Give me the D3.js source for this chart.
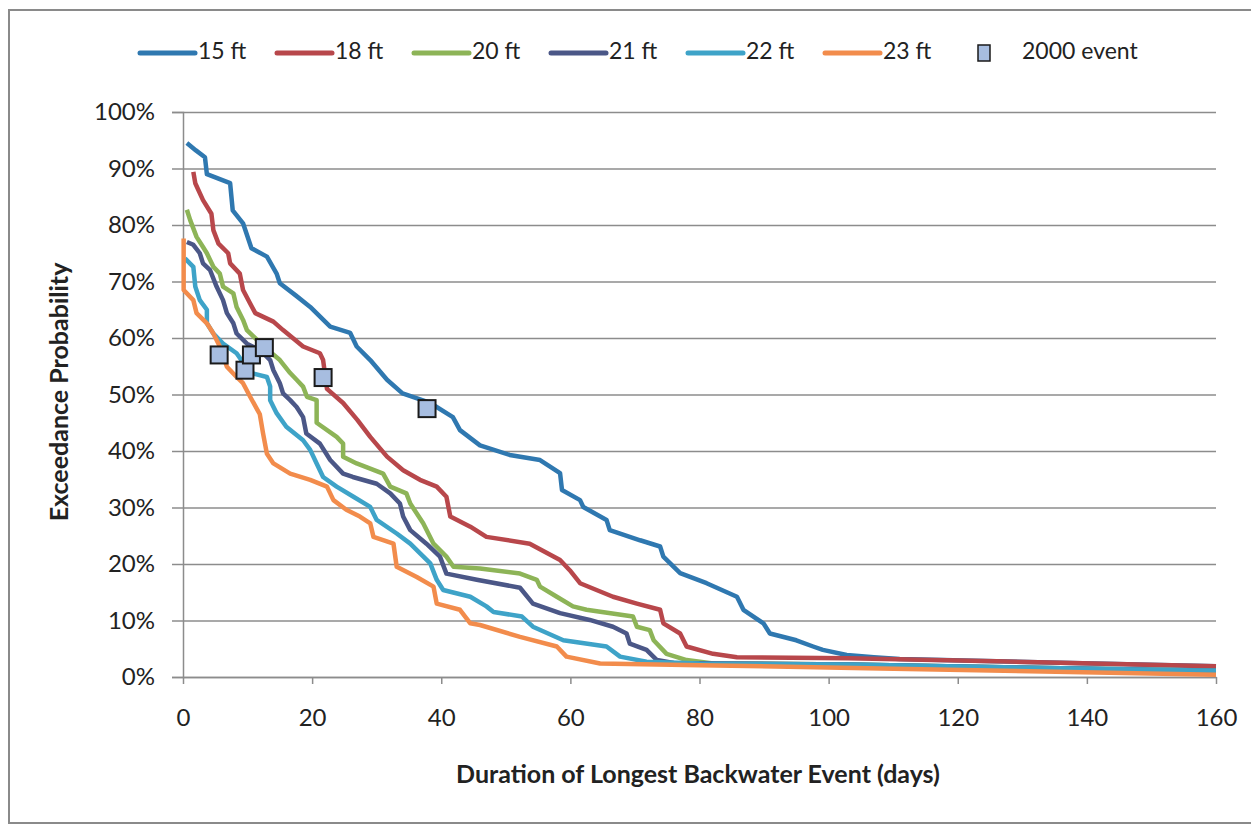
<!DOCTYPE html>
<html>
<head>
<meta charset="utf-8">
<script src="https://cdn.jsdelivr.net/npm/d3@7"></script>
<style>
  body { margin: 0; background: #fff; }
  text { font-family: Lato, "Open Sans", sans-serif; fill: #222; }
</style>
</head>
<body>
<div id="chart"></div>
<script>
// series names and colours
var seriesNames = ["15 ft", "18 ft", "20 ft", "21 ft", "22 ft", "23 ft"];
var seriesColors = ["#2f78b0", "#b8474b", "#8db457", "#4b5787", "#3ea3c8", "#f28c4c"];

// [days, exceedance %]
var s15 = [[0.6,94.5],[2.0,93.2],[3.4,92],[3.7,89],[5.5,88.2],[7.3,87.4],[7.7,82.6],[9.3,80.3],[10.6,75.9],[13,74.4],[14.5,71.4],[15,69.7],[17.5,67.5],[19.7,65.5],[22.8,62],[25.9,60.9],[26.9,58.5],[29,56.1],[31.6,52.6],[34,50.2],[38.3,48.5],[41.8,46],[42.9,43.7],[46,41],[50.6,39.3],[55.3,38.4],[58.4,36.1],[58.7,33.1],[61.5,31.3],[62,30.1],[65.6,27.8],[66.1,26],[70.8,24.2],[73.9,23.1],[74.4,21.3],[77,18.4],[81.1,16.6],[85.8,14.2],[86.8,11.9],[89.9,9.5],[90.9,7.7],[95,6.5],[97.6,5.4],[99.1,4.8],[102.8,3.9],[107,3.5],[111,3.2],[126,2.8],[160,1.9]];
var s18 = [[1.6,89.4],[1.9,87.4],[3.1,84.4],[4.4,82],[4.7,79.1],[5.5,76.7],[7,75],[7.3,73.2],[8.8,71.4],[9.3,68.5],[10.4,66.1],[11.2,64.4],[14,62.9],[15.5,61.4],[18.6,58.5],[21.2,57.3],[21.7,56.1],[22.3,51],[24.8,48.5],[27,45.5],[29,42.5],[31.6,39],[34.1,36.6],[36.7,34.9],[39.3,33.7],[40.8,31.9],[41.4,28.4],[44.5,26.6],[47,24.8],[53.7,23.6],[58.4,20.7],[59.9,18.9],[61.5,16.6],[66.6,14.2],[70.3,13],[73.9,11.9],[74.4,9.5],[77,7.7],[78,5.4],[82.1,4.1],[85.8,3.5],[103,3.3],[126,2.8],[160,1.9]];
var s20 = [[0.6,82.7],[1.1,80.9],[2.1,77.9],[3.1,76.1],[3.7,75],[4.7,72.6],[5.7,71.4],[6.2,69.1],[7.8,67.9],[8.3,65.5],[9.3,63.2],[9.9,61.4],[12.5,58.5],[15,56.1],[16.6,53.8],[17.6,52.6],[18.6,51.4],[19.2,49.6],[20.7,49],[20.7,45],[23.8,42.5],[24.8,41.3],[24.8,39],[26.9,37.8],[31,36],[32.1,33.7],[34.6,32.5],[35.2,30.7],[37.2,27.2],[38.8,23.6],[40.8,21.3],[41.9,19.5],[46,19.2],[52.2,18.3],[54.8,17.2],[55.3,16],[57.9,14.2],[60.4,12.5],[62.5,11.9],[69.7,10.7],[70.3,8.9],[72.3,8.3],[72.9,6.5],[74.9,4.1],[78,3],[82.1,2.4],[103,2.2],[160,1.1]];
var s21 = [[0.6,77],[1.6,76.5],[2.6,75],[3.1,73.2],[4.2,72],[5.2,69.1],[6.2,66.7],[6.8,64.4],[7.8,62.6],[8.3,60.8],[9.9,59],[12,57.8],[13.5,56.1],[14,54.3],[15,52],[15.5,50.2],[16.6,49],[17.6,47.8],[18.6,46],[19.1,43.1],[21.2,41.3],[22.8,38.4],[24.8,36],[26.3,35.4],[30,34.2],[32.1,32.5],[33.6,30.7],[34.1,28.4],[35.2,26],[37.7,23.6],[39.8,21.3],[40.8,18.3],[45.5,17.2],[52.2,15.8],[54.2,13],[58.4,11.3],[63,10.1],[66.6,8.9],[68.7,7.7],[69.2,5.9],[71.8,4.8],[73.4,3],[76,2.5],[103,2.2],[160,1.1]];
var s22 = [[0.3,74.1],[1.6,72.6],[1.9,69.1],[2.6,66.7],[3.7,65],[3.7,62.6],[4.7,60.8],[6.2,59],[8.3,57.3],[10,54.5],[10.9,53.7],[13,53.1],[13.5,51.4],[13.5,49],[14.5,46.7],[16,44.3],[18.6,41.9],[19.7,40.2],[20.7,37.8],[21.7,35.4],[23.8,33.7],[26.4,31.9],[29,30.1],[30,27.8],[33.1,25.4],[35.2,23.6],[38.3,20.1],[39.3,17.2],[40.3,15.4],[44.5,14.2],[47,12.5],[48.1,11.5],[52.5,10.7],[54.2,8.9],[58.9,6.5],[65.6,5.4],[67.7,3.6],[71.8,2.7],[80,2.4],[103,2.2],[160,1.1]];
var s23 = [[0.1,77.6],[0.1,68.5],[1.6,66.7],[2.1,64.4],[3.7,62.6],[4.7,60.8],[5.7,58.5],[6.8,54.9],[8.3,53.1],[9.3,52],[10.4,49.6],[11.9,46.5],[12.4,43.1],[13,39.5],[14,37.8],[16.6,36],[19.7,34.9],[22.3,33.7],[23.3,31.3],[25.3,29.6],[27.4,28.4],[29,27.2],[29.5,24.8],[32.6,23.6],[33.1,19.5],[36.2,17.7],[38.8,16],[39.3,13],[42.9,11.9],[44.5,9.5],[46,9.2],[52.2,7.1],[57.9,5.4],[59.4,3.6],[64.6,2.4],[80,2.1],[108,1.5],[160,0.4]];
var seriesValues = [s15, s18, s20, s21, s22, s23];

// 2000 event markers
var eventDays = [5.6, 9.6, 10.6, 12.6, 21.7, 37.8];
var eventProb = [57, 54.3, 57, 58.3, 53, 47.5];

var xTicks = [0, 20, 40, 60, 80, 100, 120, 140, 160];
var yTicks = [0, 10, 20, 30, 40, 50, 60, 70, 80, 90, 100];

var W = 1251, H = 825;
var margin = {top: 112, right: 35, bottom: 148, left: 183},
    width = W - margin.left - margin.right,
    height = H - margin.top - margin.bottom;

var svg = d3.select("#chart").append("svg")
    .attr("width", W)
    .attr("height", H);

// outer frame
svg.append("rect")
    .attr("x", 9).attr("y", 10)
    .attr("width", W + 20).attr("height", 813)
    .attr("fill", "none")
    .attr("stroke", "#8a8a8a")
    .attr("stroke-width", 2);

var g = svg.append("g")
    .attr("transform", "translate(" + margin.left + "," + margin.top + ")");

var x = d3.scaleLinear().domain([0, 160]).range([0, width]);
var y = d3.scaleLinear().domain([0, 100]).range([height, 0]);

// gridlines
g.append("g")
  .call(d3.axisLeft(y).tickValues(yTicks).tickSize(-width).tickFormat(""))
  .call(function(s) {
    s.select(".domain").remove();
    s.selectAll("line").attr("stroke", "#8c8c8c").attr("stroke-width", 1.5);
  });

// y axis
g.append("g")
  .call(d3.axisLeft(y).tickValues(yTicks).tickSize(11).tickPadding(17)
        .tickFormat(function(d) { return d + "%"; }))
  .call(function(s) {
    s.select(".domain").attr("stroke", "#8c8c8c").attr("stroke-width", 1.5);
    s.selectAll("line").attr("stroke", "#8c8c8c").attr("stroke-width", 1.5);
    s.selectAll("text").style("font-size", "24px").attr("fill", "#222");
  });

// x axis
g.append("g")
  .attr("transform", "translate(0," + height + ")")
  .call(d3.axisBottom(x).tickValues(xTicks).tickSize(7).tickPadding(25).tickSizeOuter(0))
  .call(function(s) {
    s.select(".domain").attr("stroke", "#8c8c8c").attr("stroke-width", 1.5);
    s.selectAll("line").attr("stroke", "#8c8c8c").attr("stroke-width", 1.5);
    s.selectAll("text").style("font-size", "24px").attr("fill", "#222");
  });

// series lines
var line = d3.line()
    .x(function(d) { return x(d[0]); })
    .y(function(d) { return y(d[1]); });

g.selectAll(".series")
  .data(seriesValues)
  .enter().append("path")
    .attr("class", "series")
    .attr("d", line)
    .attr("fill", "none")
    .attr("stroke", function(d, i) { return seriesColors[i]; })
    .attr("stroke-width", 4.5)
    .attr("stroke-linejoin", "round");

// 2000 event markers
var events = eventDays.map(function(d, i) { return {day: d, prob: eventProb[i]}; });
g.selectAll(".event")
  .data(events)
  .enter().append("rect")
    .attr("class", "event")
    .attr("x", function(d) { return x(d.day) - 8.5; })
    .attr("y", function(d) { return y(d.prob) - 8.5; })
    .attr("width", 17).attr("height", 17)
    .attr("fill", "#a7bde0")
    .attr("stroke", "#1a1a1a")
    .attr("stroke-width", 2);

// axis titles
svg.append("text")
    .attr("x", 698).attr("y", 777)
    .attr("text-anchor", "middle")
    .attr("dominant-baseline", "middle")
    .style("font-size", "25px").style("font-weight", "bold")
    .text("Duration of Longest Backwater Event (days)");

svg.append("text")
    .attr("transform", "translate(62,392) rotate(-90)")
    .attr("text-anchor", "middle")
    .attr("dominant-baseline", "middle")
    .style("font-size", "25px").style("font-weight", "bold")
    .text("Exceedance Probability");

// legend
var legend = svg.append("g").attr("transform", "translate(0,53)");
seriesNames.forEach(function(name, i) {
  var lx = 140 + i * 137;
  legend.append("line")
    .attr("x1", lx).attr("x2", lx + 55)
    .attr("y1", 0).attr("y2", 0)
    .attr("stroke", seriesColors[i])
    .attr("stroke-width", 5)
    .attr("stroke-linecap", "round");
  legend.append("text")
    .attr("x", lx + 58).attr("y", 0)
    .attr("dominant-baseline", "middle")
    .style("font-size", "23px")
    .text(name);
});
legend.append("rect")
  .attr("x", 978).attr("y", -8)
  .attr("width", 12).attr("height", 16)
  .attr("fill", "#a7bde0")
  .attr("stroke", "#1a1a1a")
  .attr("stroke-width", 1.5);
legend.append("text")
  .attr("x", 1022).attr("y", 0)
  .attr("dominant-baseline", "middle")
  .style("font-size", "23px")
  .text("2000 event");
</script>
</body>
</html>
